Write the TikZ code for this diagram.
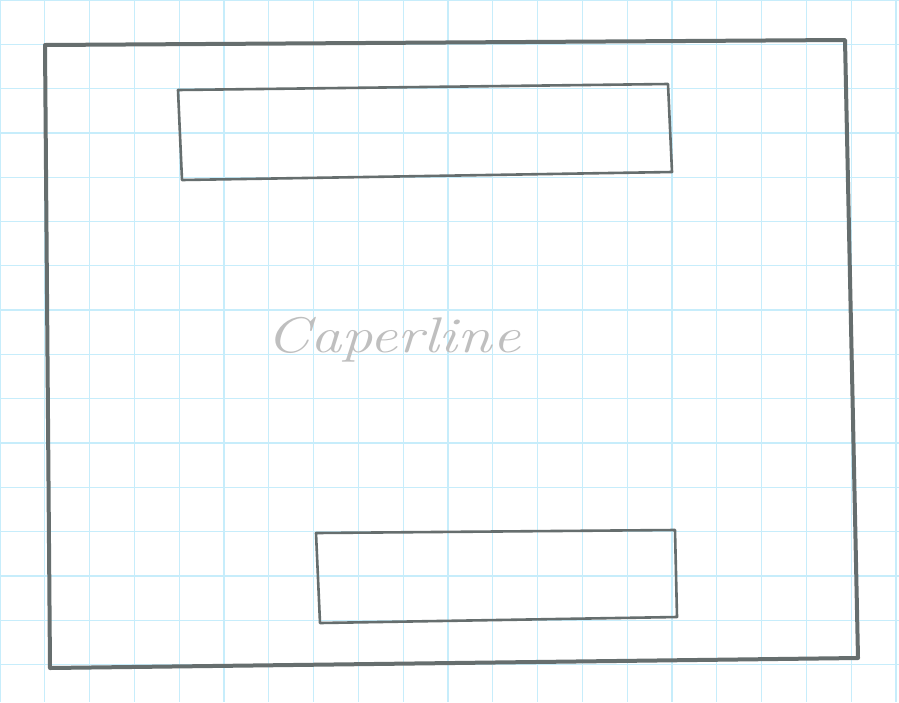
\documentclass[tikz,border=0pt]{standalone}
\definecolor{pencil}{rgb}{0.40,0.43,0.43}
\begin{document}
\begin{tikzpicture}[x=1pt,y=-1pt,
  pen/.style={draw=pencil, line width=4pt, line join=round, line cap=round},
  thinpen/.style={draw=pencil, line width=2.6pt, line join=round, line cap=round},
  gridline/.style={draw=cyan!22!white, line width=1.3pt}]
\useasboundingbox (0,0) rectangle (899,702);
\fill[white] (0,0) rectangle (899,702);
\foreach \i in {0,...,20} { \draw[gridline] (\i*44.8,0) -- (\i*44.8,702); }
\foreach \j in {0,...,16} { \draw[gridline] (0,\j*44.3) -- (899,\j*44.3); }
% outer frame
\coordinate (o1) at (45,45);
\coordinate (o2) at (845,40);
\coordinate (o3) at (858,658);
\coordinate (o4) at (50,668);
\draw[pen] (o1) -- (o2) -- (o3) -- (o4) -- cycle;
% top box
\coordinate (t1) at (178,90);
\coordinate (t2) at (668,84);
\coordinate (t3) at (672,172);
\coordinate (t4) at (182,180);
\draw[thinpen] (t1) -- (t2) -- (t3) -- (t4) -- cycle;
% bottom box
\coordinate (b1) at (316,533);
\coordinate (b2) at (675,530);
\coordinate (b3) at (677,617);
\coordinate (b4) at (320,623);
\draw[thinpen] (b1) -- (b2) -- (b3) -- (b4) -- cycle;
% label
\node[text=gray!50, font=\itshape\fontsize{50}{54}\selectfont, anchor=west, xscale=1.25, inner sep=0pt] (lbl) at (266,340) {Caperline};
\end{tikzpicture}
\end{document}
